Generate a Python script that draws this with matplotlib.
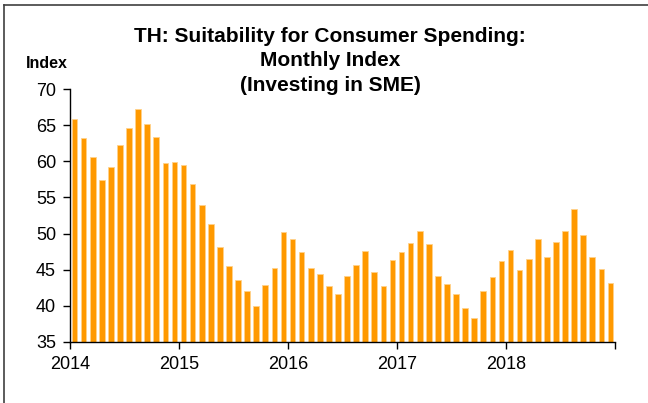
import numpy as np
import matplotlib
matplotlib.use("Agg")
import matplotlib.pyplot as plt
from matplotlib.lines import Line2D

plt.rcParams['font.family'] = ['Liberation Sans', 'DejaVu Sans']

# monthly index, Jan 2014 .. Dec 2018
v2014 = [65.9, 63.2, 60.6, 57.4, 59.2, 62.2, 64.6, 67.3, 65.2, 63.3, 59.8, 59.9]
v2015 = [59.5, 56.9, 53.9, 51.3, 48.2, 45.5, 43.6, 42.0, 40.0, 42.9, 45.3, 50.2]
v2016 = [49.3, 47.4, 45.3, 44.4, 42.8, 41.6, 44.1, 45.6, 47.6, 44.7, 42.7, 46.4]
v2017 = [47.4, 48.7, 50.3, 48.5, 44.1, 43.0, 41.7, 39.7, 38.3, 42.0, 44.0, 46.2]
v2018 = [47.7, 44.9, 46.5, 49.2, 46.7, 48.8, 50.3, 53.4, 49.8, 46.8, 45.1, 43.1]
values = v2014 + v2015 + v2016 + v2017 + v2018
years = ["2014", "2015", "2016", "2017", "2018"]

title = "TH: Suitability for Consumer Spending:\nMonthly Index\n(Investing in SME)"

W, H = 648, 403
fig = plt.figure(figsize=(W / 100, H / 100), dpi=100)
ax = fig.add_axes([70 / W, 1 - 342 / H, (615 - 70) / W, (342 - 89) / H])

x = np.arange(len(values))
ax.bar(x, values, width=0.62, color='#FF9900', edgecolor='#FFD28A', linewidth=0.6)

ax.set_ylim(35, 70)
ax.set_yticks(np.arange(35, 71, 5))
ax.set_xlim(-0.5, len(values) - 0.5)
ax.set_xticks(np.arange(0, len(values) + 1, 12) - 0.5)
ax.set_xticklabels(years + [""])

for s in ["top", "right"]:
    ax.spines[s].set_visible(False)
for s in ["left", "bottom"]:
    ax.spines[s].set_linewidth(1.0)
ax.tick_params(axis='both', labelsize=13, length=5, width=1.0, direction='out')
ax.tick_params(axis='y', pad=5)
ax.tick_params(axis='x', pad=5)

fig.text(330 / W, 1 - 61 / H, title, ha='center', va='center', fontsize=15,
         fontweight='bold', linespacing=1.38)
fig.text(47 / W, 1 - 63 / H, "Index", ha='center', va='center', fontsize=11.5,
         fontweight='bold')

# frame lines of the original slide
fig.add_artist(Line2D([4 / W, 1], [1 - 5 / H, 1 - 5 / H], color='#404040', lw=1.2))
fig.add_artist(Line2D([4 / W, 4 / W], [0, 1 - 5 / H], color='#404040', lw=1.2))

fig.savefig("out.png", dpi=100)
